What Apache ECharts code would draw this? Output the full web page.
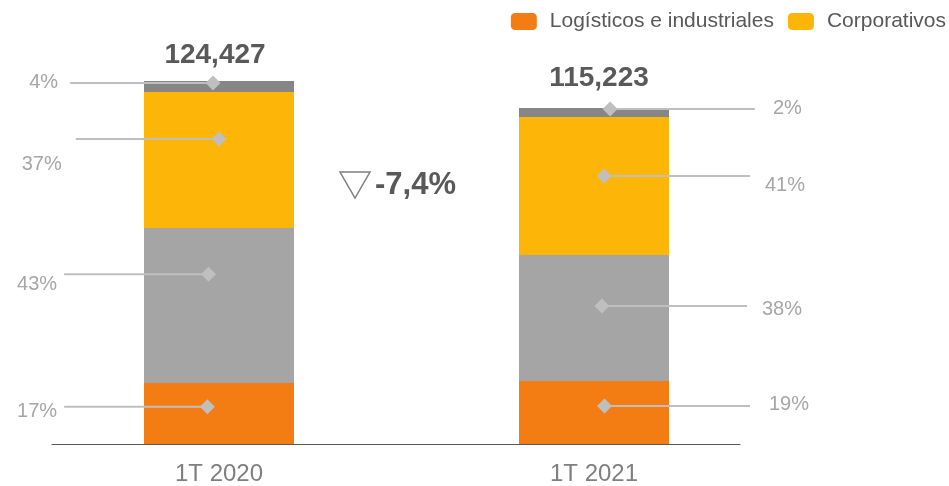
<!DOCTYPE html>
<html>
<head>
<meta charset="utf-8">
<script src="https://cdn.jsdelivr.net/npm/echarts@6/dist/echarts.min.js"></script>
<style>
html,body{margin:0;padding:0;background:#fff;}
#chart{width:949px;height:486px;}
</style>
</head>
<body>
<div id="chart"></div>
<script>
// ---- data ----
const categories = ['1T 2020', '1T 2021'];
const logisticos = [20909, 21604];
const comercial = [53130, 43209];
const corporativos = [46617, 47324];
const otros = [3771, 3086];
const totals = ['124,427', '115,223'];
const changeLabel = '-7,4%';
const pctLabels = [['17%', '43%', '37%', '4%'], ['19%', '38%', '41%', '2%']];
const markerY = [[12786, 58169, 104546, 123742], [12991, 47303, 91864, 114829]];

// ---- leader layout (annotation positions, in x-axis units) ----
const markerX = [[-0.031, -0.028, 0, -0.016], [1.028, 1.021, 1.027, 1.043]];
const endX = [[-0.413, -0.413, -0.382, -0.397], [1.416, 1.408, 1.416, 1.429]];
const labelDist = [[7, 7, 14, 12], [19, 15, 15, 18]];
const labelDy = [[5, 10, 25, -1], [-2, 3, 9, -1]];

const FONT = 'Liberation Sans, Arial, sans-serif';
const leaderItems = [];
const leaderMeta = [];
for (let b = 0; b < 2; b++) {
  for (let s = 0; s < 4; s++) {
    leaderItems.push([markerX[b][s], endX[b][s], markerY[b][s]]);
    leaderMeta.push({ text: pctLabels[b][s], side: b === 0 ? 'left' : 'right', dist: labelDist[b][s], dy: labelDy[b][s] });
  }
}

const chart = echarts.init(document.getElementById('chart'), null, { renderer: 'canvas' });

const barBase = { type: 'bar', stack: 'total', barWidth: 150, xAxisIndex: 0, yAxisIndex: 0, silent: true };

const option = {
  animation: false,
  backgroundColor: '#ffffff',
  textStyle: { fontFamily: FONT },
  legend: {
    data: ['Logísticos e industriales', 'Corporativos'],
    right: 3, top: 11, padding: 0,
    icon: 'roundRect',
    itemWidth: 26, itemHeight: 17, itemGap: 14,
    textStyle: { fontSize: 21, color: '#595959', fontFamily: FONT, padding: [0, 0, 0, 8] },
    selectedMode: false
  },
  grid: [
    { left: 31.5, right: 167.5, top: 35.6, bottom: 42, containLabel: false, outerBoundsMode: 'none' },
    { left: 52, right: 209, top: 35.6, bottom: 42, containLabel: false, outerBoundsMode: 'none' }
  ],
  xAxis: [
    {
      type: 'category', gridIndex: 0, data: categories,
      axisLine: { show: false }, axisTick: { show: false },
      axisLabel: { fontSize: 24, color: '#7F7F7F', margin: 18, fontFamily: FONT }
    },
    { type: 'value', gridIndex: 0, min: -0.5, max: 1.5, show: false },
    {
      type: 'value', gridIndex: 1, min: 0, max: 1,
      axisLine: { show: true, onZero: false, lineStyle: { color: '#595959', width: 1 } },
      axisTick: { show: false }, axisLabel: { show: false }, splitLine: { show: false }
    }
  ],
  yAxis: [
    { type: 'value', gridIndex: 0, min: 0, max: 140000, show: false },
    { type: 'value', gridIndex: 1, min: 0, max: 1, show: false }
  ],
  graphic: [
    {
      type: 'polygon', silent: true,
      shape: { points: [[340, 172], [370, 172], [355, 198]] },
      style: { fill: 'none', stroke: '#7F7F7F', lineWidth: 1.5 }
    },
    {
      type: 'text', x: 375, y: 185, silent: true,
      style: { text: changeLabel, fill: '#595959', font: 'bold 31px ' + FONT, textAlign: 'left', textVerticalAlign: 'middle' }
    }
  ],
  series: [
    Object.assign({}, barBase, { name: 'Logísticos e industriales', data: logisticos, itemStyle: { color: '#F47D13' } }),
    Object.assign({}, barBase, { name: 'Comercial', data: comercial, itemStyle: { color: '#A5A5A5' } }),
    Object.assign({}, barBase, { name: 'Corporativos', data: corporativos, itemStyle: { color: '#FDB508' } }),
    Object.assign({}, barBase, {
      name: 'Otros',
      data: otros.map((v, i) => ({ value: v, label: { offset: i === 0 ? [-4, 2] : [5, -2] } })),
      itemStyle: { color: '#868686' },
      label: {
        show: true, position: 'top', distance: 14,
        formatter: p => totals[p.dataIndex],
        fontSize: 28, fontWeight: 'bold', color: '#595959', fontFamily: FONT
      }
    }),
    {
      type: 'custom', name: 'leaders', xAxisIndex: 1, yAxisIndex: 0, silent: true, z: 10,
      encode: { x: [0, 1], y: 2 },
      data: leaderItems,
      renderItem: function (params, api) {
        const meta = leaderMeta[params.dataIndex];
        const m = api.coord([api.value(0), api.value(2)]);
        const e = api.coord([api.value(1), api.value(2)]);
        const r = 7.5;
        const tx = meta.side === 'left' ? e[0] - meta.dist : e[0] + meta.dist;
        return {
          type: 'group',
          children: [
            { type: 'line', shape: { x1: e[0], y1: e[1], x2: m[0], y2: m[1] }, style: { stroke: '#BFBFBF', lineWidth: 2 } },
            { type: 'polygon', shape: { points: [[m[0], m[1] - r], [m[0] + r, m[1]], [m[0], m[1] + r], [m[0] - r, m[1]]] }, style: { fill: '#BFBFBF' } },
            {
              type: 'text', x: tx, y: e[1] + meta.dy,
              style: { text: meta.text, fill: '#A6A6A6', font: '20px ' + FONT, align: meta.side === 'left' ? 'right' : 'left', verticalAlign: 'middle' }
            }
          ]
        };
      }
    }
  ]
};
chart.setOption(option);
</script>
</body>
</html>
